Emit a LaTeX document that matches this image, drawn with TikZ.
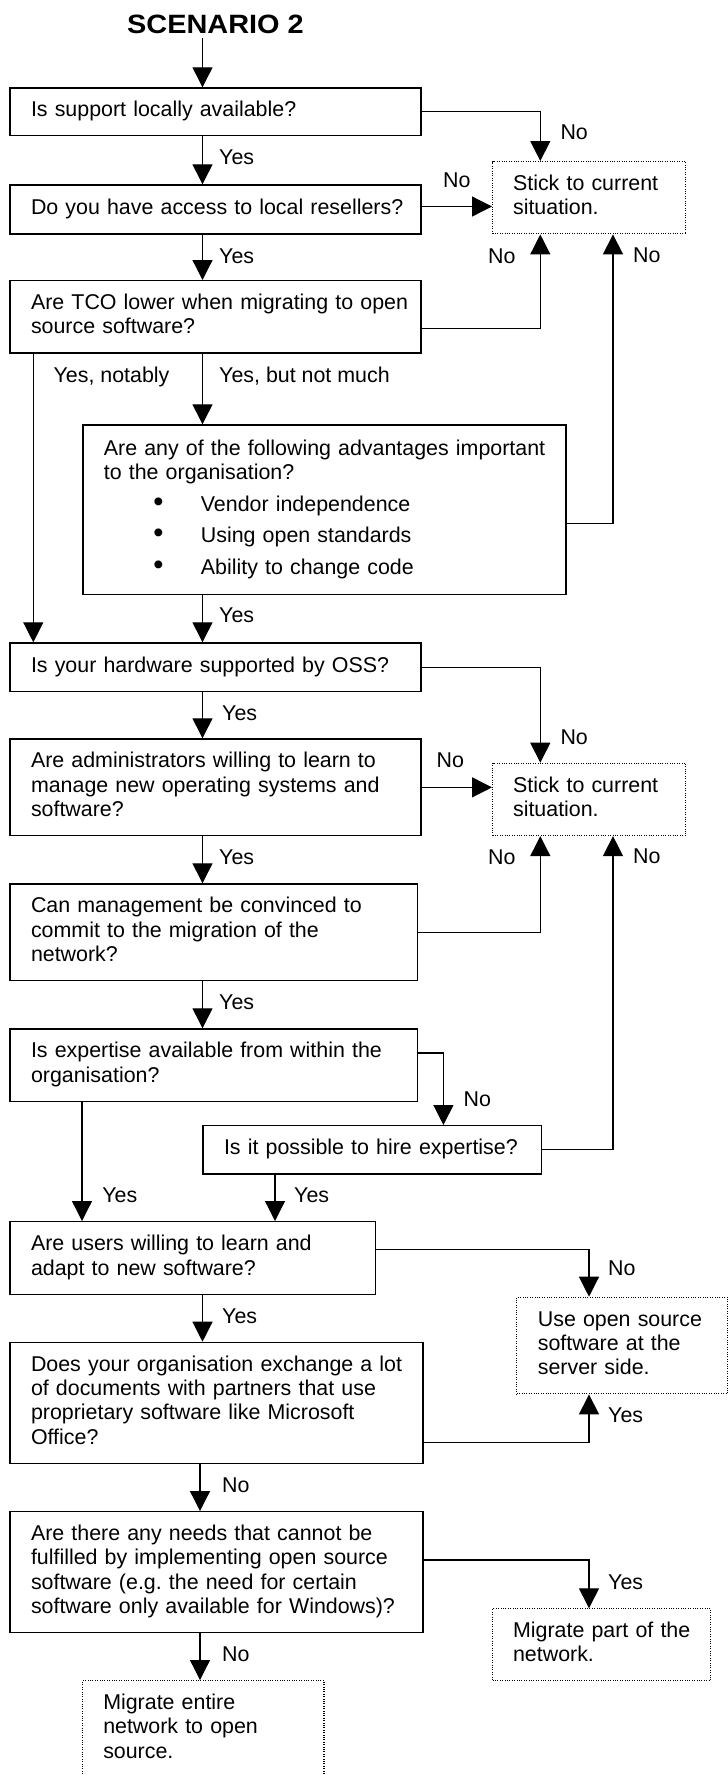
\documentclass[tikz,border=0pt]{standalone}
\usepackage{fontspec}
\setmainfont{Liberation Sans}
\usetikzlibrary{arrows.meta}
\frenchspacing
\newcommand\boxlines[1]{\begin{tabular}{@{}l@{}}#1\end{tabular}}
\newcommand\bul{\hspace*{54.6pt}\makebox[0pt]{\fontsize{29}{24.4}\selectfont\textbullet}\hspace*{42.4pt}}
\begin{document}
\begin{tikzpicture}[x=1pt,y=-1pt,
  every node/.style={font=\fontsize{21.4}{24.4}\selectfont},
  qbox/.style={draw, line width=1.4pt, rectangle, anchor=north west, align=left, inner xsep=21pt, inner ysep=0pt},
  endbox/.style={qbox, line width=1.1pt, dash pattern=on 1pt off 1.4pt},
  arr/.style={-{Triangle[length=20pt,width=20pt]}, line width=1.25pt},
  lbl/.style={anchor=west, inner sep=0pt, text height=15.3pt, text depth=0pt}]
\useasboundingbox (0,0) rectangle (728,1775);
% columns
\coordinate (colA) at (202.5,0);
\coordinate (colL) at (33.3,0);
\coordinate (colB) at (82,0);
\coordinate (colC) at (540.3,0);
\coordinate (colD) at (613,0);
\coordinate (colE) at (443.4,0);
\coordinate (colF) at (275,0);
\coordinate (colG) at (589,0);
\coordinate (colH) at (200,0);
% title
\node[font=\fontsize{26.5}{30}\selectfont\bfseries, inner sep=4pt] (title) at (215.5,24.2) {\scalebox{1.09}[1]{SCENARIO 2}};
% question boxes
\node[qbox, text width=369pt, minimum height=47.7pt] (B1) at (9.3,87.3) {\boxlines{Is support locally available?}};
\node[qbox, text width=369pt, minimum height=49pt] (B2) at (9.3,184.3) {\boxlines{Do you have access to local resellers?}};
\node[qbox, text width=369pt, minimum height=72.3pt] (B3) at (9.3,280) {\boxlines{Are TCO lower when migrating to open\\source software?}};
\node[qbox, text width=441pt, minimum height=169.7pt] (ADV) at (82.2,424.3) {\boxlines{Are any of the following advantages important\\to the organisation?\\[7pt]
\bul Vendor independence\\[7pt]
\bul Using open standards\\[7pt]
\bul Ability to change code}};
\node[qbox, text width=369pt, minimum height=48.4pt] (B4) at (9.3,642.3) {\boxlines{Is your hardware supported by OSS?}};
\node[qbox, text width=369pt, minimum height=96.7pt] (B5) at (9.3,738.3) {\boxlines{Are administrators willing to learn to\\manage new operating systems and\\software?}};
\node[qbox, text width=365.6pt, minimum height=96.7pt] (B6) at (9.3,883.3) {\boxlines{Can management be convinced to\\commit to the migration of the\\network?}};
\node[qbox, text width=365.6pt, minimum height=72.4pt] (B7) at (9.3,1028.3) {\boxlines{Is expertise available from within the\\organisation?}};
\node[qbox, text width=296.6pt, minimum height=48.3pt] (H) at (202.3,1125) {\boxlines{Is it possible to hire expertise?}};
\node[qbox, text width=323.4pt, minimum height=73pt] (B8) at (9.3,1221) {\boxlines{Are users willing to learn and\\adapt to new software?}};
\node[qbox, text width=371pt, minimum height=121pt] (B9) at (9.3,1341.7) {\boxlines{Does your organisation exchange a lot\\of documents with partners that use\\proprietary software like Microsoft\\Office?}};
\node[qbox, text width=371pt, minimum height=120.7pt] (B10) at (9.3,1511) {\boxlines{Are there any needs that cannot be\\fulfilled by implementing open source\\software (e.g. the need for certain\\software only available for Windows)?}};
% end boxes
\node[endbox, text width=152.3pt, minimum height=72.3pt, inner xsep=20.5pt] (S1) at (492,161) {\boxlines{Stick to current\\situation.}};
\node[endbox, text width=152.3pt, minimum height=72.3pt, inner xsep=20.5pt] (S2) at (492,762.7) {\boxlines{Stick to current\\situation.}};
\node[endbox, text width=168.7pt, minimum height=96.6pt] (Srv) at (516.3,1296.7) {\boxlines{Use open source\\software at the\\server side.}};
\node[endbox, text width=177.3pt, minimum height=71.7pt, inner xsep=20.5pt] (P) at (492,1608.3) {\boxlines{Migrate part of the\\network.}};
\node[endbox, text width=200.2pt, minimum height=97pt, inner xsep=20.5pt] (E) at (82.2,1680) {\boxlines{Migrate entire\\network to open\\source.}};
% connectors
\draw[arr] (title.south -| colA) -- (B1.north -| colA);
\draw[arr] (B1.south -| colA) -- (B2.north -| colA);
\draw[arr] (B1.east) -| (S1.north -| colC);
\draw[arr] ([yshift=3pt]B2.east) -- ([yshift=3pt]B2.east -| S1.west);
\draw[arr] (B2.south -| colA) -- (B3.north -| colA);
\draw[arr] ([yshift=-11.5pt]B3.east) -| (S1.south -| colC);
\draw[arr] ([yshift=-13.5pt]ADV.east) -| (S1.south -| colD);
\draw[arr] (B3.south -| colA) -- (ADV.north -| colA);
\draw[arr] (B3.south -| colL) -- (B4.north -| colL);
\draw[arr] (ADV.south -| colA) -- (B4.north -| colA);
\draw[arr] (B4.south -| colA) -- (B5.north -| colA);
\draw[arr] (B4.east) -| (S2.north -| colC);
\draw[arr] (B5.east) -- (B5.east -| S2.west);
\draw[arr] (B5.south -| colA) -- (B6.north -| colA);
\draw[arr] (B6.east) -| (S2.south -| colC);
\draw[arr] (B6.south -| colA) -- (B7.north -| colA);
\draw[arr] ([yshift=12.2pt]B7.east) -| (H.north -| colE);
\draw[arr] (H.east) -| (S2.south -| colD);
\draw[arr] (B7.south -| colB) -- (B8.north -| colB);
\draw[arr] (H.south -| colF) -- (B8.north -| colF);
\draw[arr] ([yshift=8.8pt]B8.east) -| (Srv.north -| colG);
\draw[arr] (B8.south -| colA) -- (B9.north -| colA);
\draw[arr] ([yshift=-39.5pt]B9.east) -| (Srv.south -| colG);
\draw[arr] (B9.south -| colH) -- (B10.north -| colH);
\draw[arr] ([yshift=12pt]B10.east) -| (P.north -| colG);
\draw[arr] (B10.south -| colH) -- (E.north -| colH);
% labels
\node[lbl] (l1) at (219,156.7) {Yes};
\node[lbl] (l2) at (560.3,131.7) {No};
\node[lbl] (l3) at (443,180) {No};
\node[lbl] (l4) at (219,256) {Yes};
\node[lbl] (l5) at (488,256) {No};
\node[lbl] (l6) at (633,255) {No};
\node[lbl] (l7) at (53.4,375) {Yes, notably};
\node[lbl] (l8) at (219,375) {Yes, but not much};
\node[lbl] (l9) at (219,615) {Yes};
\node[lbl] (l10) at (560.3,736.7) {No};
\node[lbl] (l11) at (222,712.7) {Yes};
\node[lbl] (l12) at (436.4,760) {No};
\node[lbl] (l13) at (219,856.7) {Yes};
\node[lbl] (l14) at (488,856.7) {No};
\node[lbl] (l15) at (633,856) {No};
\node[lbl] (l16) at (219,1001.7) {Yes};
\node[lbl] (l17) at (463.4,1099.3) {No};
\node[lbl] (l18) at (102.2,1195) {Yes};
\node[lbl] (l19) at (294,1195) {Yes};
\node[lbl] (l20) at (608,1267.5) {No};
\node[lbl] (l21) at (222,1316) {Yes};
\node[lbl] (l22) at (608,1415) {Yes};
\node[lbl] (l23) at (222,1484.5) {No};
\node[lbl] (l24) at (608,1581.7) {Yes};
\node[lbl] (l25) at (222,1654) {No};
\end{tikzpicture}
\end{document}
